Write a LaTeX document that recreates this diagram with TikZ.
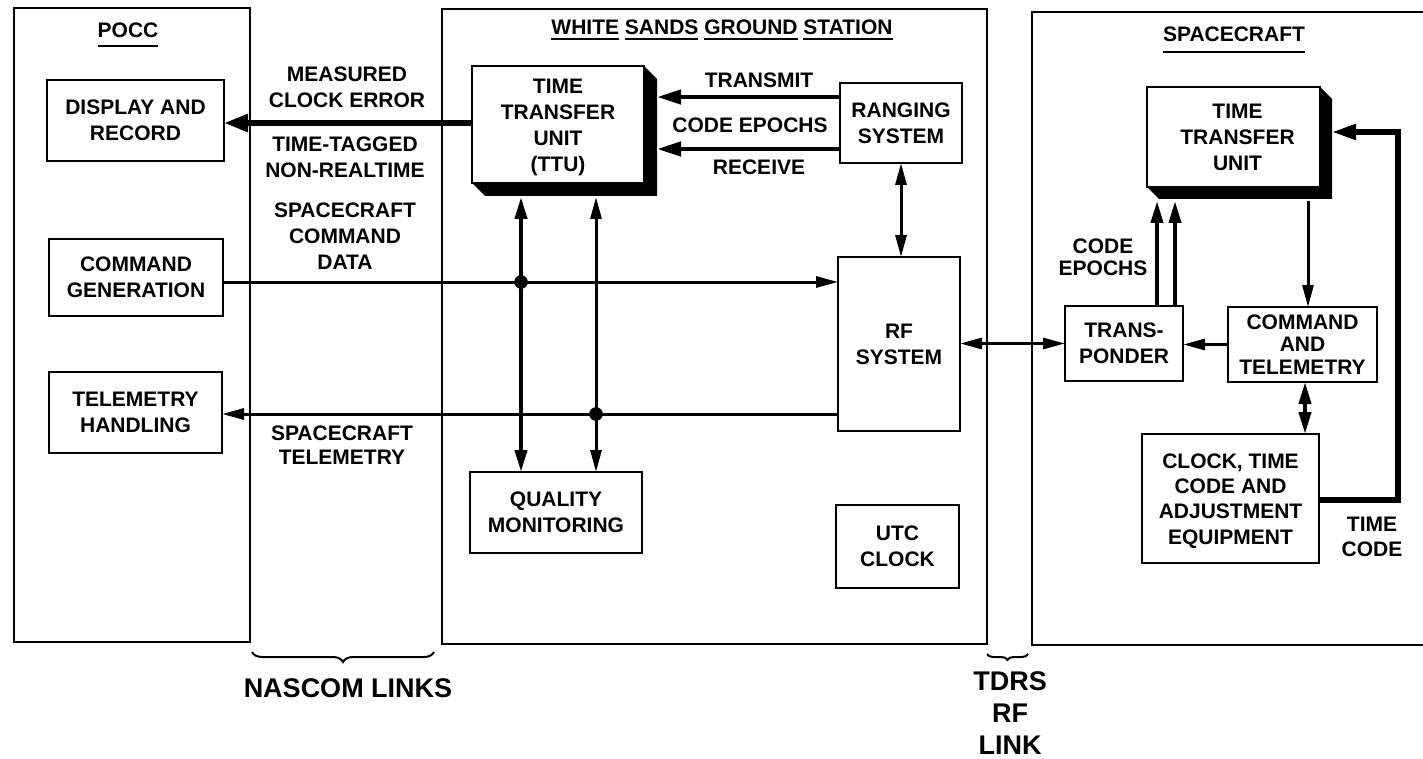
\documentclass[tikz,border=0pt]{standalone}
\usepackage{fontspec}
\setmainfont{Liberation Sans}
\usetikzlibrary{arrows.meta,fit,decorations.pathreplacing}
\newcommand\ulx[2]{\setbox0\hbox{#2}\rlap{\rule[-#1]{\wd0}{0.9pt}}\box0\relax}
\begin{document}
\begin{tikzpicture}[x=0.5pt,y=-0.5pt,
  font=\fontsize{10.5}{13}\selectfont\bfseries,
  frame/.style={draw, line width=1pt, inner sep=0pt, outer sep=0pt},
  box/.style={draw, line width=1.1pt, inner sep=0pt, outer sep=0pt},
  lbl/.style={inner sep=0pt, align=center},
  big/.style={font=\fontsize{13.5}{15.8}\selectfont\bfseries, inner sep=0pt, align=center},
  arrA/.style={line width=2.8pt, -{Triangle[length=12pt,width=8.5pt]}},
  arrB/.style={line width=2.3pt, -{Triangle[length=12pt,width=7pt]}},
  arrC/.style={line width=1.5pt, -{Triangle[length=11pt,width=5.5pt]}},
  arrD/.style={line width=2pt, -{Triangle[length=11pt,width=6pt]}},
  arrE/.style={line width=2.6pt, line join=miter, -{Triangle[length=12pt,width=7.5pt]}},
  dblA/.style={line width=2pt, {Triangle[length=11pt,width=6pt]}-{Triangle[length=11pt,width=6pt]}},
  dblC/.style={line width=1.5pt, {Triangle[length=11pt,width=5.5pt]}-{Triangle[length=11pt,width=5.5pt]}},
  brc/.style={line width=1pt, decorate},
]
\useasboundingbox (0,0) rectangle (1423,759);

% frames
\node[frame, fit={(14,8) (250,642)}] (pocc) {};
\node[frame, fit={(442,9) (987,644)}] (wsgs) {};
\draw[line width=1pt] (1423,12) -- (1032,12) -- (1032,645) -- (1423,645);

% titles
\node[lbl, anchor=base] (poccL) at (128,38) {\ulx{4.5pt}{POCC}};
\node[lbl, anchor=base] (wsL) at (722,35) {\ulx{2.5pt}{WHITE} \ulx{2.5pt}{SANDS} \ulx{2.5pt}{GROUND} \ulx{2.5pt}{STATION}};
\node[lbl, anchor=base] (scL) at (1234,42) {\ulx{5.5pt}{SPACECRAFT}};

% boxes
\node[box, fit={(47,80) (224,161)}] (disp) {};
\node[box, fit={(49,239) (223,316)}] (cmdg) {};
\node[box, fit={(49,372) (222,453)}] (tlm) {};
\node[box, fit={(472,66) (644,183)}] (ttu) {};
\node[box, fit={(840,83) (962,163)}] (rng) {};
\node[box, fit={(838,257) (960,431)}] (rf) {};
\node[box, fit={(470,472) (642,553)}] (qm) {};
\node[box, fit={(836,505) (959,588)}] (utc) {};
\node[box, fit={(1147,87) (1320,187)}] (sttu) {};
\node[box, fit={(1065,306) (1183,381)}] (xp) {};
\node[box, fit={(1228,307) (1377,382)}] (ct) {};
\node[box, fit={(1142,434) (1319,563)}] (clk) {};

% box texts
\node[lbl] (dispT) at (disp.center) {DISPLAY AND\\RECORD};
\node[lbl] (cmdgT) at (cmdg.center) {COMMAND\\GENERATION};
\node[lbl] (tlmT) at (tlm.center) {TELEMETRY\\HANDLING};
\node[lbl] (ttuT) at ([yshift=-1.6pt]ttu.center) {TIME\\TRANSFER\\UNIT\\(TTU)};
\node[lbl] (rngT) at (rng.center) {RANGING\\SYSTEM};
\node[lbl] (rfT) at (rf.center) {RF\\SYSTEM};
\node[lbl] (qmT) at (qm.center) {QUALITY\\MONITORING};
\node[lbl] (utcT) at (utc.center) {UTC\\CLOCK};
\node[lbl] (sttuT) at ([xshift=2pt]sttu.center) {TIME\\TRANSFER\\UNIT};
\node[lbl] (xpT) at (xp.center) {TRANS-\\PONDER};
\node[lbl, font=\fontsize{10.5}{11.3}\selectfont\bfseries] (ctT) at (ct.center) {COMMAND\\AND\\TELEMETRY};
\node[lbl, font=\fontsize{10.5}{12.7}\selectfont\bfseries] (clkT) at ([yshift=-1.2pt]clk.center) {CLOCK, TIME\\CODE AND\\ADJUSTMENT\\EQUIPMENT};

% shadows
\fill (ttu.north east) -- ++(13,13) -- ([shift={(13,13)}]ttu.south east) -- ([shift={(13,13)}]ttu.south west) -- (ttu.south west) -- (ttu.south east) -- cycle;
\fill (sttu.north east) -- ++(12,12) -- ([shift={(12,12)}]sttu.south east) -- ([shift={(12,12)}]sttu.south west) -- (sttu.south west) -- (sttu.south east) -- cycle;
\coordinate (ttuS) at ([shift={(13,14)}]ttu.south east);
\coordinate (sttuS) at ([shift={(12,14)}]sttu.south east);

% labels
\node[lbl] (l1) at (347,87) {MEASURED\\CLOCK ERROR};
\node[lbl] (l2) at (345,157) {TIME-TAGGED\\NON-REALTIME};
\node[lbl] (l3) at (345,236) {SPACECRAFT\\COMMAND\\DATA};
\node[lbl, font=\fontsize{10.5}{12}\selectfont\bfseries] (l4) at (342,445) {SPACECRAFT\\TELEMETRY};
\node[lbl] (l5) at (759,80) {TRANSMIT};
\node[lbl] (l6) at (750,125) {CODE EPOCHS};
\node[lbl] (l7) at (759,167) {RECEIVE};
\node[lbl, font=\fontsize{10.5}{10.8}\selectfont\bfseries] (l8) at (1103,257) {CODE\\EPOCHS};
\node[lbl, font=\fontsize{10.5}{12.5}\selectfont\bfseries] (l9) at (1372,537) {TIME\\CODE};

% connectors
\draw[arrA] (ttu.west |- 0,123) -- (disp.east |- 0,123);
\draw[arrB] (rng.west |- 0,97) -- (ttuS |- 0,97);
\draw[arrB] (rng.west |- 0,149) -- (ttuS |- 0,149);

\coordinate (j1) at (521,282);
\coordinate (j2) at (596,414);
\draw[arrC] (cmdg.east |- j1) -- (rf.west |- j1);
\draw[dblA] (j1 |- ttuS) -- (j1 |- qm.north);
\draw[dblC] (j2 |- ttuS) -- (j2 |- qm.north);
\draw[arrC] (rf.west |- j2) -- (tlm.east |- j2);
\fill (j1) circle[radius=3.4pt];
\fill (j2) circle[radius=3.4pt];

\draw[dblC] (rng.south) -- (rng.south |- rf.north);
\draw[dblC] (rf.east |- xp.west) -- (xp.west);
\draw[arrC] (ct.west) -- (ct.west -| xp.east);
\draw[arrC] (1308,0 |- sttuS) -- (1308,0 |- ct.north);
\draw[dblA] (1305,0 |- ct.south) -- (1305,0 |- clk.north);
\draw[arrE] (clk.east |- 0,500) -- (1398,500) -- (1398,132) -- (sttuS |- 0,132);
\draw[arrD] (1157,0 |- xp.north) -- (1157,0 |- sttuS);
\draw[arrD] (1175,0 |- xp.north) -- (1175,0 |- sttuS);

% braces
\draw[brc, decoration={brace, amplitude=5pt}] (434,652) -- (252,652);
\node[big] (nas) at (348,688) {NASCOM LINKS};
\draw[brc, decoration={brace, amplitude=3pt}] (1028,654) -- (987,654);
\node[big] (tdrs) at (1010,713) {TDRS\\RF\\LINK};
\end{tikzpicture}
\end{document}
